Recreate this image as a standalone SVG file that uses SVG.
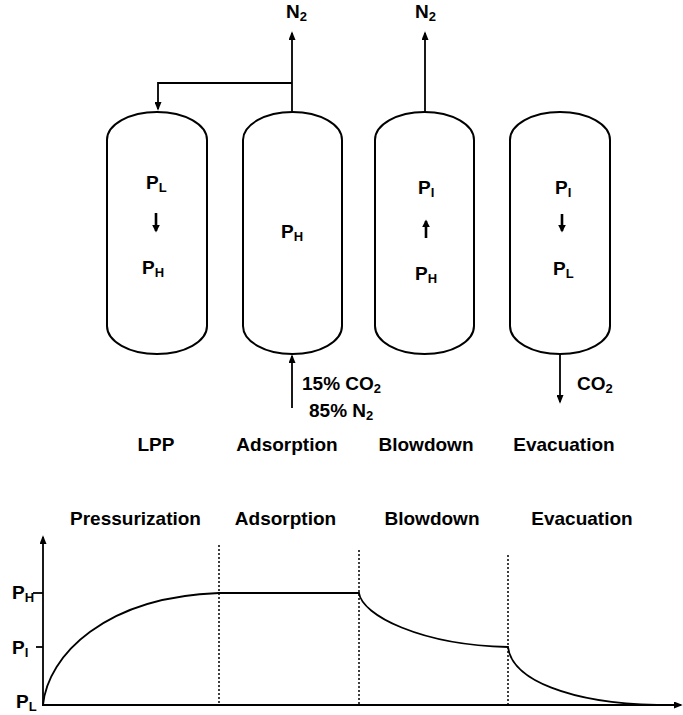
<svg xmlns="http://www.w3.org/2000/svg" width="683" height="715" viewBox="0 0 683 715">
<defs>
<marker id="ah" viewBox="0 0 10 8" markerWidth="9" markerHeight="7" refX="8" refY="4" orient="auto" markerUnits="userSpaceOnUse">
<path d="M0,0 L10,4 L0,8 Z" fill="#000"/>
</marker>
<marker id="ahs" viewBox="0 0 10 10" markerWidth="8" markerHeight="9" refX="8" refY="5" orient="auto" markerUnits="userSpaceOnUse">
<path d="M0,0 L10,5 L0,10 Z" fill="#000"/>
</marker>
</defs>
<style>
text{font-family:"Liberation Sans",Arial,sans-serif;font-weight:bold;font-size:19px;fill:#000}
.sub{font-size:13px}
.col{fill:#fff;stroke:#000;stroke-width:2}
.ln{fill:none;stroke:#000;stroke-width:1.8}
.sa{fill:none;stroke:#000;stroke-width:2.6}
.dash{fill:none;stroke:#000;stroke-width:1.5;stroke-dasharray:2 2}
.mid{text-anchor:middle}
</style>
<rect width="683" height="715" fill="#fff"/>

<g id="col-lpp">
<path class="col" d="M107,140 A50,28 0 0 1 207,140 L207,326 A50,28 0 0 1 107,326 Z"/>
<text x="146" y="189">P<tspan class="sub" dy="3">L</tspan></text>
<line class="sa" x1="156" y1="213" x2="156" y2="231" marker-end="url(#ahs)"/>
<text x="142" y="274">P<tspan class="sub" dy="3">H</tspan></text>
<text class="mid" x="156" y="451">LPP</text>
</g>
<g id="col-adsorption">
<path class="col" d="M243,140 A49.5,28 0 0 1 342,140 L342,326 A49.5,28 0 0 1 243,326 Z"/>
<text x="281" y="238">P<tspan class="sub" dy="3">H</tspan></text>
<text class="mid" x="287" y="451">Adsorption</text>
</g>
<g id="col-blowdown">
<path class="col" d="M375,140 A49.5,28 0 0 1 474,140 L474,326 A49.5,28 0 0 1 375,326 Z"/>
<text x="418" y="194">P<tspan class="sub" dy="3">I</tspan></text>
<line class="sa" x1="426" y1="238" x2="426" y2="221" marker-end="url(#ahs)"/>
<text x="415" y="280">P<tspan class="sub" dy="3">H</tspan></text>
<text class="mid" x="426" y="451">Blowdown</text>
</g>
<g id="col-evacuation">
<path class="col" d="M510,140 A50,28 0 0 1 610,140 L610,326 A50,28 0 0 1 510,326 Z"/>
<text x="555" y="194">P<tspan class="sub" dy="3">I</tspan></text>
<line class="sa" x1="562" y1="214" x2="562" y2="231" marker-end="url(#ahs)"/>
<text x="553" y="275">P<tspan class="sub" dy="3">L</tspan></text>
<text class="mid" x="564" y="451">Evacuation</text>
</g>

<g id="stream-labels">
<text x="286" y="18">N<tspan class="sub" dy="3">2</tspan></text>
<text x="415" y="18">N<tspan class="sub" dy="3">2</tspan></text>
<text x="302" y="390">15% CO<tspan class="sub" dy="3">2</tspan></text>
<text x="309" y="417">85% N<tspan class="sub" dy="3">2</tspan></text>
<text x="577" y="390">CO<tspan class="sub" dy="3">2</tspan></text>
</g>

<g id="connectors">
<line class="ln" x1="292" y1="112" x2="292" y2="33" marker-end="url(#ah)"/>
<polyline class="ln" points="292,83 158,83 158,109" marker-end="url(#ah)"/>
<line class="ln" x1="425" y1="112" x2="425" y2="33" marker-end="url(#ah)"/>
<line class="ln" x1="292" y1="408" x2="292" y2="356" marker-end="url(#ah)"/>
<line class="ln" x1="560" y1="354" x2="560" y2="402" marker-end="url(#ah)"/>
</g>

<g id="chart">
<text class="mid" x="135.5" y="525">Pressurization</text>
<text class="mid" x="285.5" y="525">Adsorption</text>
<text class="mid" x="432" y="525">Blowdown</text>
<text class="mid" x="582" y="525">Evacuation</text>
<line class="ln" x1="43" y1="706" x2="43" y2="537" marker-end="url(#ah)"/>
<line class="ln" x1="42" y1="705" x2="681" y2="705" marker-end="url(#ah)"/>
<line class="ln" x1="33" y1="593" x2="43" y2="593"/>
<line class="ln" x1="36" y1="647" x2="43" y2="647"/>
<text x="12" y="599">P<tspan class="sub" dy="3">H</tspan></text>
<text x="12" y="654">P<tspan class="sub" dy="3">I</tspan></text>
<text x="16" y="708">P<tspan class="sub" dy="3">L</tspan></text>
<line class="dash" x1="219" y1="545" x2="219" y2="705"/>
<line class="dash" x1="359" y1="550" x2="359" y2="705"/>
<line class="dash" x1="508" y1="555" x2="508" y2="705"/>
<path class="ln" d="M43,705 C48,655 105,597 219,593 L359,593 C362,615 420,645 508,647 C512,680 570,703 657,705"/>
</g>
</svg>
